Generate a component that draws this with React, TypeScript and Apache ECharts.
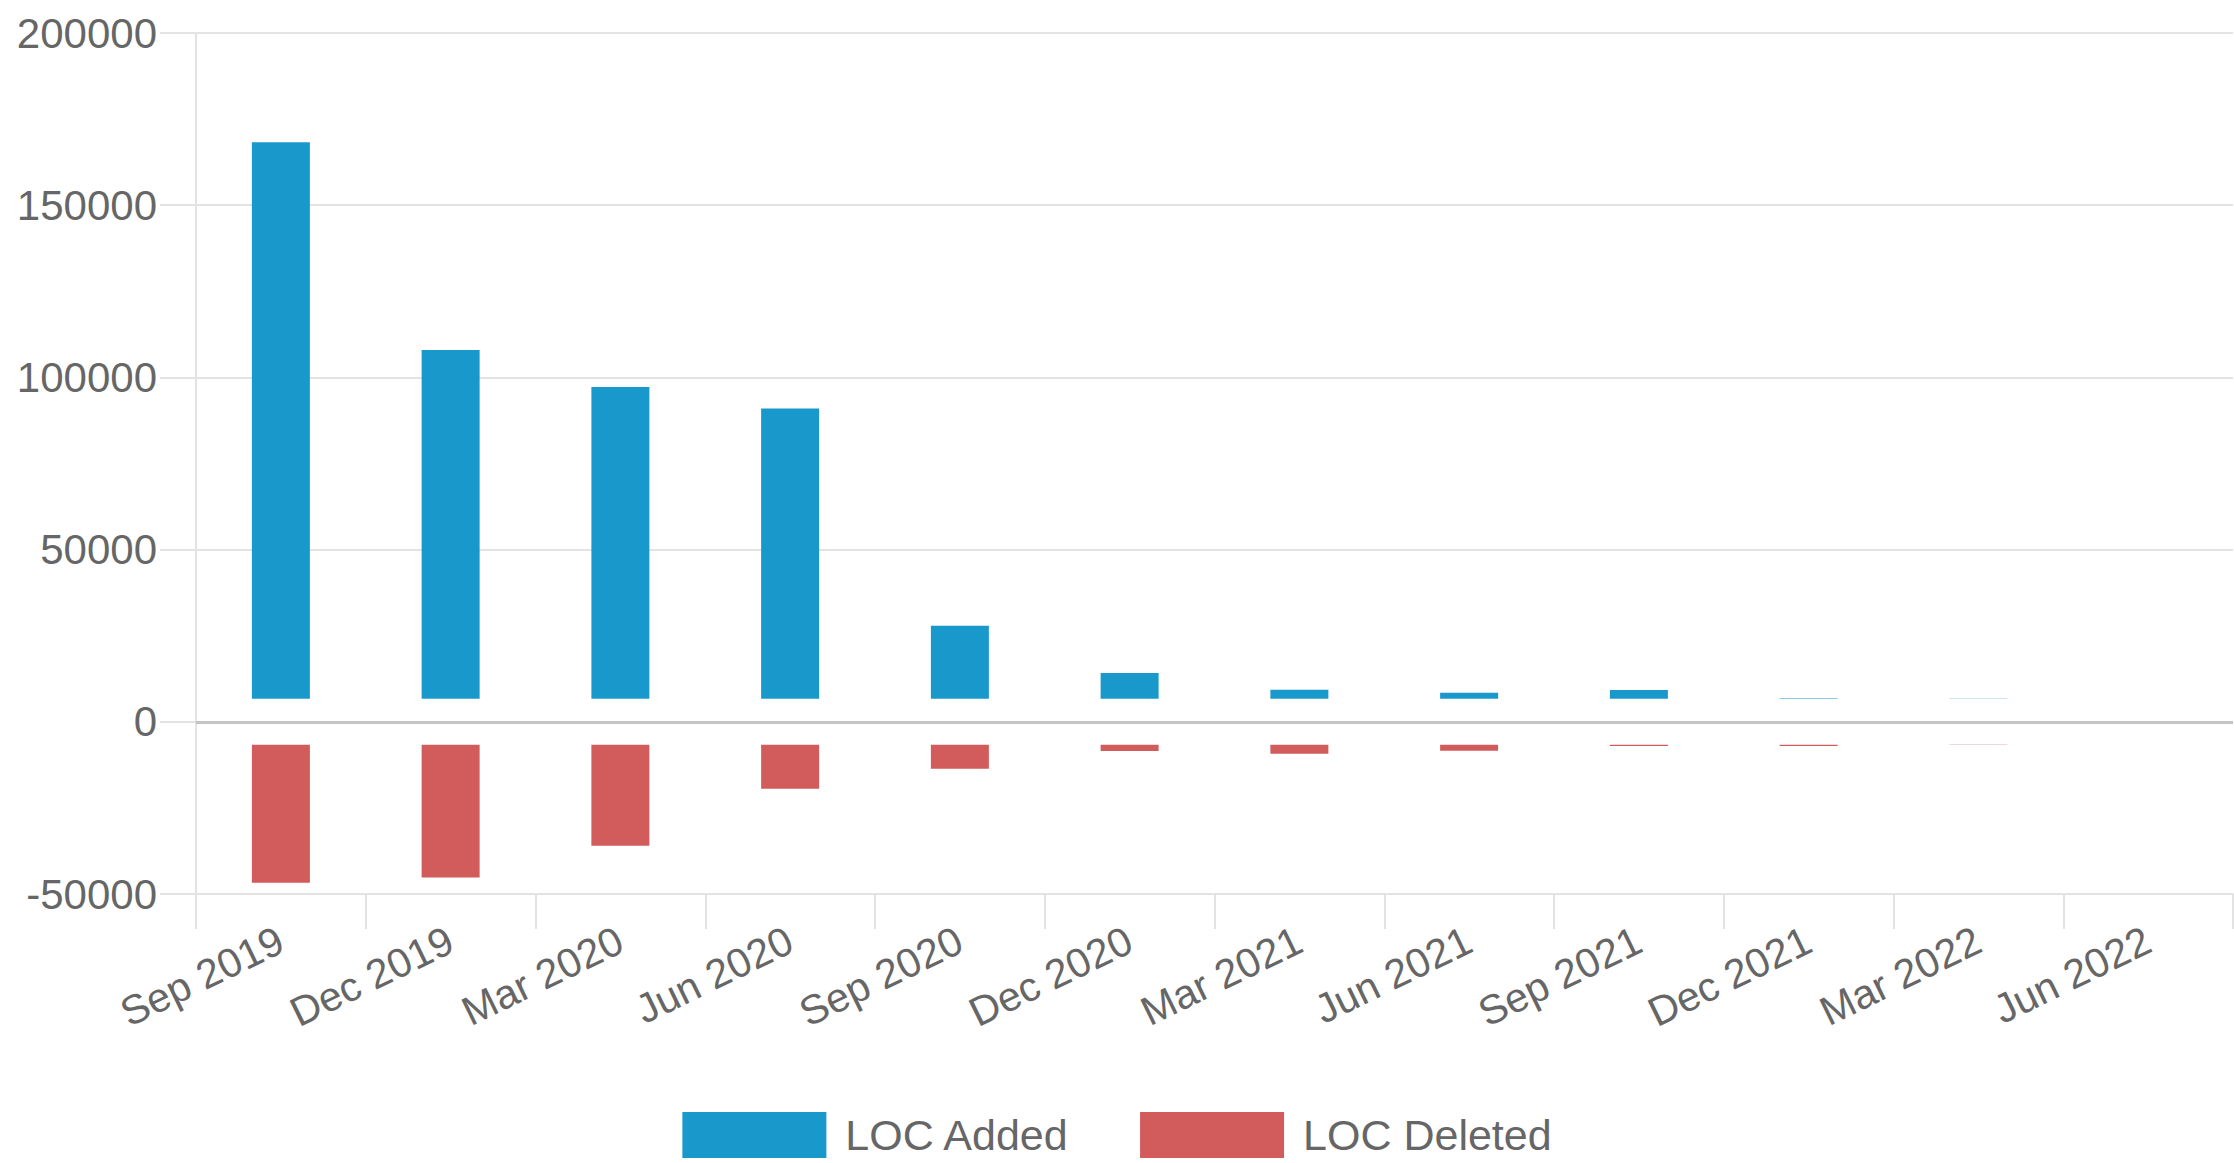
import React, { useEffect, useRef } from "react";
import * as echarts from "echarts";

const categories = [
  "Sep 2019", "Dec 2019", "Mar 2020", "Jun 2020", "Sep 2020", "Dec 2020",
  "Mar 2021", "Jun 2021", "Sep 2021", "Dec 2021", "Mar 2022", "Jun 2022",
];
const locAdded = [161600, 101250, 90500, 84300, 21200, 7500, 2600, 1700, 2500, 150, 30, 0];
const locDeleted = [-40000, -38500, -29300, -12750, -6900, -1750, -2600, -1700, -300, -300, -50, 0];
const yTicks = { min: -50000, max: 200000, interval: 50000 };
// visual gap between zero line and bar base (in axis units)
const GAP = 6700;

const FONT = "'Liberation Sans', Arial, Helvetica, sans-serif";

export default function App() {
  const ref = useRef<HTMLDivElement>(null);
  useEffect(() => {
    if (!ref.current) return;
    const chart = echarts.init(ref.current, null, { renderer: "svg" });
    const gapPos = categories.map(() => GAP);
    const gapNeg = categories.map(() => -GAP);
    chart.setOption({
      animation: false,
      textStyle: { fontFamily: FONT },
      grid: { left: 196, right: 1, top: 33, bottom: 269, containLabel: false },
      legend: {
        data: ["LOC Added", "LOC Deleted"],
        top: 1112,
        left: "center",
        padding: 0,
        itemWidth: 144,
        itemHeight: 46,
        itemGap: 70,
        icon: "rect",
        textStyle: { fontSize: 43, lineHeight: 46, color: "#666", fontFamily: FONT, padding: [0, 0, 0, 14] },
      },
      xAxis: {
        type: "category",
        data: categories,
        boundaryGap: true,
        axisLine: { show: true, onZero: false, lineStyle: { color: "#e3e3e3", width: 2 } },
        axisTick: { show: true, length: 35, interval: 0, lineStyle: { color: "#e3e3e3", width: 2 } },
        axisLabel: { interval: 0, rotate: 26, fontSize: 41, color: "#666", margin: 44, fontFamily: FONT },
        splitLine: { show: false },
      },
      yAxis: {
        type: "value",
        min: yTicks.min,
        max: yTicks.max,
        interval: yTicks.interval,
        axisLine: { show: true, lineStyle: { color: "#e3e3e3", width: 2 } },
        axisTick: { show: true, length: 36, lineStyle: { color: "#e3e3e3", width: 2 } },
        axisLabel: {
          fontSize: 42,
          color: "#666",
          margin: 39,
          fontFamily: FONT,
          formatter: (v: number) => String(v),
        },
        splitLine: { show: true, lineStyle: { color: "#e3e3e3", width: 2 } },
      },
      series: [
        {
          name: "gapPos",
          type: "bar",
          stack: "loc",
          data: gapPos,
          barWidth: 58,
          itemStyle: { color: "rgba(0,0,0,0)" },
          silent: true,
          markLine: {
            silent: true,
            symbol: "none",
            label: { show: false },
            lineStyle: { color: "#c4c4c4", width: 3, type: "solid" },
            data: [{ yAxis: 0 }],
          },
        },
        {
          name: "LOC Added",
          type: "bar",
          stack: "loc",
          data: locAdded,
          barWidth: 58,
          itemStyle: { color: "#1998cb" },
        },
        {
          name: "gapNeg",
          type: "bar",
          stack: "loc",
          data: gapNeg,
          barWidth: 58,
          itemStyle: { color: "rgba(0,0,0,0)" },
          silent: true,
        },
        {
          name: "LOC Deleted",
          type: "bar",
          stack: "loc",
          data: locDeleted,
          barWidth: 58,
          itemStyle: { color: "#d25b5c" },
        },
      ],
    });
    return () => chart.dispose();
  }, []);
  return (
    <div
      ref={ref}
      style={{ position: "absolute", left: 0, top: 0, width: 2234, height: 1163, background: "#fff" }}
    />
  );
}
